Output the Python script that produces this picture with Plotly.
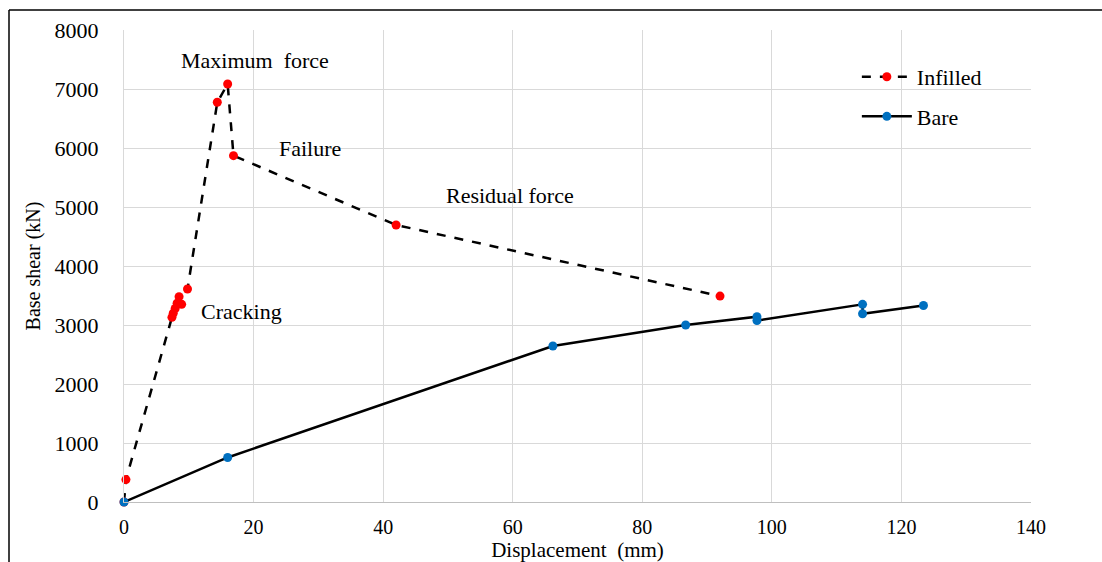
import plotly.graph_objects as go

# Infilled frame data
infilled_x = [0, 0.3, 7.4, 7.6, 7.9, 8.2, 8.5, 8.9, 9.8, 14.4, 16.0, 16.9, 42.0, 92.0]
infilled_y = [0, 380, 3130, 3200, 3280, 3370, 3480, 3350, 3610, 6775, 7085, 5870, 4695, 3490]

# Bare frame data
bare_x = [0, 16.0, 66.2, 86.7, 97.7, 97.7, 114.0, 114.0, 123.4]
bare_y = [0, 755, 2645, 3000, 3140, 3075, 3350, 3190, 3330]

x_ticks = [0, 20, 40, 60, 80, 100, 120, 140]
y_ticks = [0, 1000, 2000, 3000, 4000, 5000, 6000, 7000, 8000]

ann_text = ["Maximum&nbsp; force", "Failure", "Residual force", "Cracking"]
ann_x = [20.2, 28.7, 59.6, 18.2]
ann_y = [7490, 6000, 5200, 3237]

FONT = "Liberation Serif"

fig = go.Figure()
fig.add_trace(go.Scatter(
    x=infilled_x, y=infilled_y, name="Infilled", mode="lines+markers",
    legendgroup="a", cliponaxis=False,
    line=dict(color="black", width=2.5, dash="dash"),
    marker=dict(color="#ff0000", size=9),
))
fig.add_trace(go.Scatter(
    x=bare_x, y=bare_y, name="Bare", mode="lines+markers",
    legendgroup="b", cliponaxis=False,
    line=dict(color="black", width=2.5),
    marker=dict(color="#0070c0", size=9),
))

for t, x, y in zip(ann_text, ann_x, ann_y):
    fig.add_annotation(x=x, y=y, text=t, showarrow=False,
                       font=dict(family=FONT, size=22, color="black"))

fig.update_layout(
    width=1102, height=562,
    margin=dict(l=124, r=71, t=30, b=60, autoexpand=False),
    paper_bgcolor="white", plot_bgcolor="white",
    font=dict(family=FONT, size=22, color="black"),
    showlegend=True,
    legend=dict(x=0.808, y=0.945, xanchor="left", yanchor="top",
                bgcolor="rgba(0,0,0,0)", font=dict(family=FONT, size=22),
                itemwidth=50, tracegroupgap=8),
    shapes=[
        dict(type="line", xref="paper", yref="paper",
             x0=(9 - 124) / 907, x1=1.2, y0=(502 - 10) / 472, y1=(502 - 10) / 472,
             line=dict(color="black", width=1.5)),
        dict(type="line", xref="paper", yref="paper",
             x0=(9 - 124) / 907, x1=(9 - 124) / 907, y0=(502 - 10) / 472, y1=-0.2,
             line=dict(color="black", width=1.5)),
    ],
)
fig.update_xaxes(
    range=[0, 140], tickvals=x_ticks, showgrid=True, gridcolor="#d9d9d9", gridwidth=1,
    showline=True, linecolor="#bfbfbf", linewidth=1, zeroline=False, automargin=False,
    ticks="", ticklabelstandoff=7, tickfont=dict(family=FONT, size=20),
    title=dict(text="Displacement&nbsp; (mm)", font=dict(family=FONT, size=21), standoff=2),
)
fig.update_yaxes(
    range=[0, 8000], tickvals=y_ticks, showgrid=True, gridcolor="#d9d9d9", gridwidth=1,
    showline=True, linecolor="#d9d9d9", linewidth=1, zeroline=False, automargin=False,
    ticks="", ticklabelstandoff=20, tickfont=dict(family=FONT, size=22),
    title=dict(text="Base shear (kN)", font=dict(family=FONT, size=20), standoff=8),
)

fig.write_html("out.html")
